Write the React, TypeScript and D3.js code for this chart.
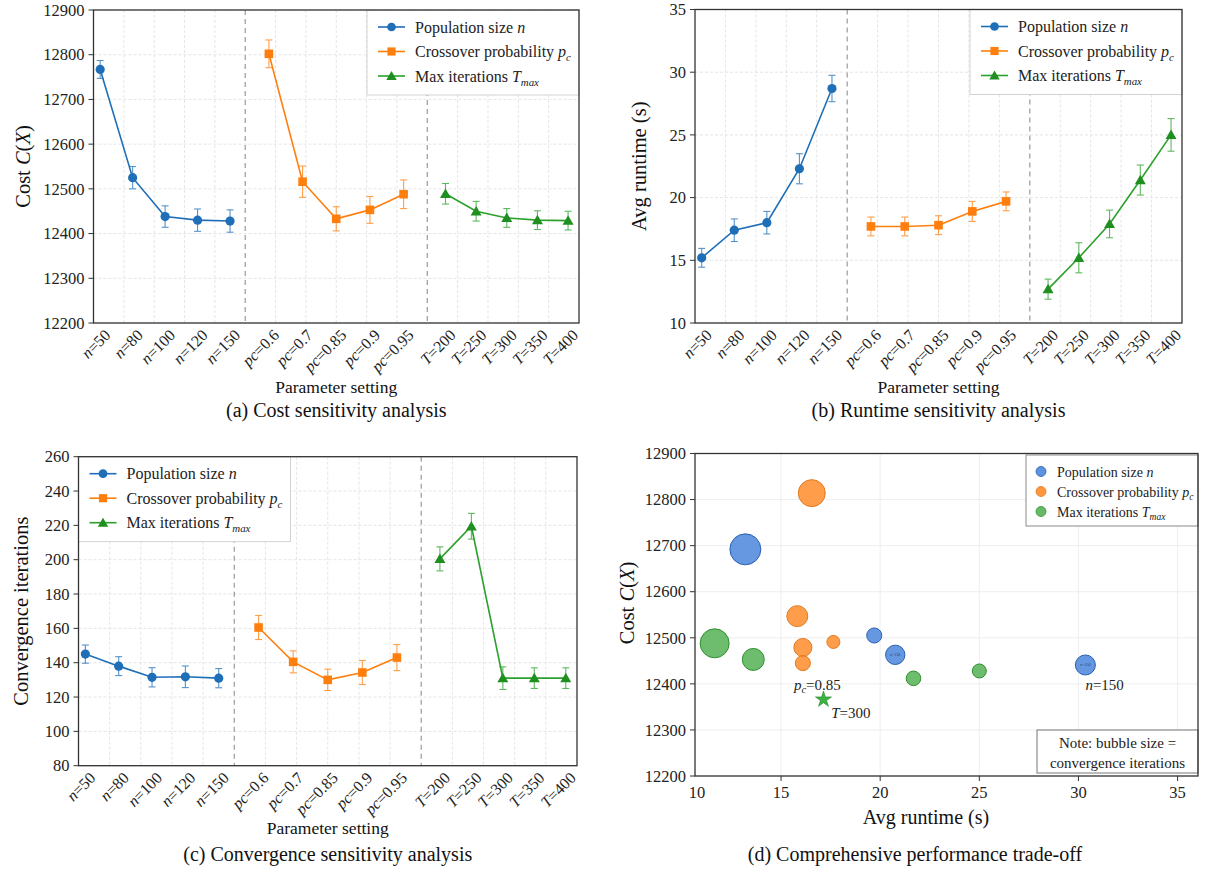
import React from 'react';
import * as d3 from 'd3';

const FONT = '"Liberation Serif", "Times New Roman", "DejaVu Serif", serif';
const COL = { n: '#1f6fb8', pc: '#ff7f0e', T: '#2ca02c' };

// ---------- categories ----------
const nLabels = ['50', '80', '100', '120', '150'];
const pcLabels = ['0.6', '0.7', '0.85', '0.9', '0.95'];
const tLabels = ['200', '250', '300', '350', '400'];

// ---------- (a) cost ----------
const costN = [12767, 12525, 12438, 12430, 12428];
const costNErr = [20, 25, 24, 25, 25];
const costPc = [12802, 12516, 12433, 12453, 12488];
const costPcErr = [31, 35, 27, 30, 32];
const costT = [12489, 12450, 12435, 12430, 12429];
const costTErr = [23, 22, 21, 21, 21];
const costTicks = [12200, 12300, 12400, 12500, 12600, 12700, 12800, 12900];

// ---------- (b) runtime ----------
const runN = [15.2, 17.4, 18.0, 22.3, 28.7];
const runNErr = [0.75, 0.9, 0.9, 1.2, 1.05];
const runPc = [17.7, 17.7, 17.8, 18.9, 19.7];
const runPcErr = [0.75, 0.75, 0.75, 0.8, 0.75];
const runT = [12.7, 15.2, 17.9, 21.4, 25.0];
const runTErr = [0.8, 1.2, 1.1, 1.2, 1.3];
const runTicks = [10, 15, 20, 25, 30, 35];

// ---------- (c) convergence ----------
const convN = [145, 138, 131.5, 131.8, 131];
const convNErr = [5.3, 5.5, 5.6, 6.3, 5.6];
const convPc = [160.5, 140.5, 130, 134.3, 143];
const convPcErr = [7, 6.4, 6.2, 7, 7.6];
const convT = [200.5, 219.5, 131, 131, 131];
const convTErr = [7, 7.5, 6.6, 6, 6];
const convTicks = [80, 100, 120, 140, 160, 180, 200, 220, 240, 260];

// ---------- (d) trade-off bubbles ----------
const bubNRun = [13.2, 19.7, 20.76, 30.35];
const bubNCost = [12692, 12505, 12463, 12441];
const bubNSize = [220, 52, 86, 92];
const bubNTag = ['', '', 'n=120', 'n=150'];
const bubPcRun = [16.55, 15.82, 16.1, 16.1, 17.64];
const bubPcCost = [12814, 12547, 12479, 12445, 12491];
const bubPcSize = [167, 101, 75, 52, 39];
const bubTRun = [11.65, 13.6, 21.68, 25.0];
const bubTCost = [12488, 12453, 12412, 12428];
const bubTSize = [193, 111, 49, 45];
const starRun = 17.14;
const starCost = 12366;
const dXTicks = [15, 20, 25, 30, 35];
const dYTicks = [12200, 12300, 12400, 12500, 12600, 12700, 12800, 12900];

type Key = 'n' | 'pc' | 'T';
const GROUPS: { key: Key; labels: string[]; span: [number, number]; v: string }[] = [
  { key: 'n', labels: nLabels, span: [0.22, 4.5], v: 'n' },
  { key: 'pc', labels: pcLabels, span: [5.78, 10.22], v: 'pc' },
  { key: 'T', labels: tLabels, span: [11.6, 15.64], v: 'T' },
];

function legendLabel(key: Key, sub: number) {
  if (key === 'n') return (<><tspan>Population size </tspan><tspan fontStyle="italic">n</tspan></>);
  if (key === 'pc') return (<><tspan>Crossover probability </tspan><tspan fontStyle="italic">p</tspan><tspan fontStyle="italic" fontSize="0.68em" dy={sub}>c</tspan></>);
  return (<><tspan>Max iterations </tspan><tspan fontStyle="italic">T</tspan><tspan fontStyle="italic" fontSize="0.68em" dy={sub}>max</tspan></>);
}

function Marker({ k, x, y, scale = 1 }: { k: Key; x: number; y: number; scale?: number }) {
  if (k === 'n') return <circle cx={x} cy={y} r={4.6 * scale} fill={COL.n} />;
  if (k === 'pc') { const s = 8.6 * scale; return <rect x={x - s / 2} y={y - s / 2} width={s} height={s} fill={COL.pc} />; }
  const p = d3.symbol(d3.symbolTriangle, 52 * scale * scale)();
  return <path d={p || ''} transform={`translate(${x},${y + 1})`} fill="#1f8f1f" />;
}

function LinePanel(props: {
  x0: number; x1: number; y0: number; y1: number;
  yDomain: [number, number]; yTicks: number[];
  data: Record<Key, [number[], number[]]>;
  yLabel: React.ReactNode; yLabelX: number;
  xLabelY: number; caption: string; captionY: number;
  legendSide: 'left' | 'right';
}) {
  const { x0, x1, y0, y1 } = props;
  const xs = d3.scaleLinear().domain([0, 16]).range([x0, x1]);
  const ys = d3.scaleLinear().domain(props.yDomain).range([y1, y0]);
  const cx = (x0 + x1) / 2;
  const cy = (y0 + y1) / 2;
  const gridX = d3.range(1, 16).filter((k) => k !== 5 && k !== 11);
  const lgW = 212, lgH = 85;
  const lgX = props.legendSide === 'right' ? x1 - lgW : x0;
  const lgY = y0;
  return (
    <g fontFamily={FONT}>
      {/* grid */}
      {props.yTicks.map((t) => (
        <line key={'gy' + t} x1={x0} x2={x1} y1={ys(t)} y2={ys(t)} stroke="#dedede" strokeWidth={0.8} strokeDasharray="3,2" />
      ))}
      {gridX.map((k) => (
        <line key={'gx' + k} x1={xs(k)} x2={xs(k)} y1={y0} y2={y1} stroke="#dedede" strokeWidth={0.8} strokeDasharray="3,2" />
      ))}
      {[5, 11].map((k) => (
        <line key={'sep' + k} x1={xs(k)} x2={xs(k)} y1={y0} y2={y1} stroke="#9a9a9a" strokeWidth={1.2} strokeDasharray="5,4" />
      ))}
      {/* series */}
      {GROUPS.map((g) => {
        const px = d3.scalePoint<string>().domain(g.labels).range(g.span);
        const [vals, errs] = props.data[g.key];
        const pts = g.labels.map((l, i) => [xs(px(l) as number), ys(vals[i])] as [number, number]);
        const line = d3.line()(pts) || '';
        return (
          <g key={g.key}>
            {g.labels.map((l, i) => {
              const x = xs(px(l) as number);
              const ya = ys(vals[i] + errs[i]);
              const yb = ys(vals[i] - errs[i]);
              return (
                <g key={l} stroke={COL[g.key]} strokeWidth={1.1} opacity={0.75}>
                  <line x1={x} x2={x} y1={ya} y2={yb} />
                  <line x1={x - 3.5} x2={x + 3.5} y1={ya} y2={ya} />
                  <line x1={x - 3.5} x2={x + 3.5} y1={yb} y2={yb} />
                </g>
              );
            })}
            <path d={line} fill="none" stroke={COL[g.key]} strokeWidth={1.6} />
            {pts.map((p, i) => <Marker key={i} k={g.key} x={p[0]} y={p[1]} />)}
            {g.labels.map((l) => (
              <text key={'t' + l} transform={`translate(${xs(px(l) as number) + 3},${y1 + 5}) rotate(-45)`} textAnchor="end" fontSize={16} dy="0.72em" fill="#222">
                <tspan fontStyle="italic">{g.v}</tspan>={l}
              </text>
            ))}
          </g>
        );
      })}
      {/* legend */}
      <rect x={lgX} y={lgY} width={lgW} height={lgH} fill="#fff" stroke="#c8c8c8" strokeWidth={0.8} />
      {(['n', 'pc', 'T'] as Key[]).map((k, i) => {
        const ry = lgY + 17 + i * 24.5;
        return (
          <g key={'lg' + k}>
            <line x1={lgX + 11} x2={lgX + 38} y1={ry} y2={ry} stroke={COL[k]} strokeWidth={1.6} />
            <Marker k={k} x={lgX + 24.5} y={ry} scale={0.95} />
            <text x={lgX + 48} y={ry + 5.5} fontSize={16} fill="#222">{legendLabel(k, 4)}</text>
          </g>
        );
      })}
      {/* frame */}
      <rect x={x0} y={y0} width={x1 - x0} height={y1 - y0} fill="none" stroke="#333" strokeWidth={1.3} />
      {/* y axis */}
      {props.yTicks.map((t) => (
        <g key={'yt' + t}>
          <line x1={x0 - 5} x2={x0} y1={ys(t)} y2={ys(t)} stroke="#333" strokeWidth={1} />
          <text x={x0 - 9} y={ys(t)} dy="0.35em" textAnchor="end" fontSize={16.5} fill="#222">{t}</text>
        </g>
      ))}
      <text transform={`translate(${props.yLabelX},${cy}) rotate(-90)`} textAnchor="middle" dy="0.35em" fontSize={20.5} fill="#111">{props.yLabel}</text>
      <text x={cx} y={props.xLabelY} textAnchor="middle" fontSize={17.5} fill="#111">Parameter setting</text>
      <text x={cx} y={props.captionY} textAnchor="middle" fontSize={20} fill="#111">{props.caption}</text>
    </g>
  );
}

function BubblePanel() {
  const x0 = 695, x1 = 1198, y0 = 453.5, y1 = 776;
  const xs = d3.scaleLinear().domain([10.66, 36.03]).range([x0, x1]);
  const ys = d3.scaleLinear().domain([12200, 12900]).range([y1, y0]);
  const rs = d3.scaleSqrt().domain([0, 250]).range([0, 16.5]);
  const fills: Record<Key, [string, string]> = {
    n: ['#4a86dc', '#2a5fb0'],
    pc: ['#ff8c2a', '#e07a20'],
    T: ['#55b255', '#2f8f2f'],
  };
  const sets: { k: Key; run: number[]; cost: number[]; size: number[] }[] = [
    { k: 'pc', run: bubPcRun, cost: bubPcCost, size: bubPcSize },
    { k: 'T', run: bubTRun, cost: bubTCost, size: bubTSize },
    { k: 'n', run: bubNRun, cost: bubNCost, size: bubNSize },
  ];
  const star = d3.symbol(d3.symbolStar, 80)() || '';
  const lgX = 1026, lgY = 455, lgW = 172, lgH = 71;
  return (
    <g fontFamily={FONT}>
      {dYTicks.map((t) => (
        <line key={'gy' + t} x1={x0} x2={x1} y1={ys(t)} y2={ys(t)} stroke="#ececec" strokeWidth={0.9} />
      ))}
      {dXTicks.map((t) => (
        <line key={'gx' + t} x1={xs(t)} x2={xs(t)} y1={y0} y2={y1} stroke="#ececec" strokeWidth={0.9} />
      ))}
      {sets.map((s) => s.run.map((r, i) => (
        <circle key={s.k + i} cx={xs(r)} cy={ys(s.cost[i])} r={rs(s.size[i])} fill={fills[s.k][0]} fillOpacity={0.85} stroke={fills[s.k][1]} strokeWidth={1} />
      )))}
      {bubNRun.map((r, i) => bubNTag[i] ? (
        <text key={'tag' + i} x={xs(r)} y={ys(bubNCost[i])} dy="0.35em" textAnchor="middle" fontSize={4} fill="#1a3d80">{bubNTag[i]}</text>
      ) : null)}
      <path d={star} transform={`translate(${xs(starRun)},${ys(starCost)})`} fill="#3cb043" stroke="#2a8a2a" strokeWidth={0.6} />
      {/* annotations */}
      <text x={xs(15.65)} y={ys(12386)} fontSize={15} fill="#222">
        <tspan fontStyle="italic">p</tspan><tspan fontStyle="italic" fontSize="0.7em" dy={3}>c</tspan><tspan dy={-3}>=0.85</tspan>
      </text>
      <text x={xs(17.53)} y={ys(12325)} fontSize={15} fill="#222"><tspan fontStyle="italic">T</tspan>=300</text>
      <text x={xs(30.35)} y={ys(12386)} fontSize={15} fill="#222"><tspan fontStyle="italic">n</tspan>=150</text>
      {/* legend */}
      <rect x={lgX} y={lgY} width={lgW} height={lgH} fill="#fff" stroke="#8a8a8a" strokeWidth={1} />
      {(['n', 'pc', 'T'] as Key[]).map((k, i) => {
        const ry = lgY + 16.5 + i * 20;
        return (
          <g key={'dl' + k}>
            <circle cx={lgX + 15} cy={ry} r={5} fill={fills[k][0]} fillOpacity={0.9} stroke={fills[k][1]} strokeWidth={0.8} />
            <text x={lgX + 31} y={ry + 5} fontSize={14} fill="#222">{legendLabel(k, 3)}</text>
          </g>
        );
      })}
      {/* note */}
      <rect x={1037} y={730} width={161} height={43} fill="#fff" stroke="#777" strokeWidth={1} />
      <text x={1117.5} y={748} textAnchor="middle" fontSize={15} fill="#222">Note: bubble size =</text>
      <text x={1117.5} y={768} textAnchor="middle" fontSize={15} fill="#222">convergence iterations</text>
      {/* frame */}
      <rect x={x0} y={y0} width={x1 - x0} height={y1 - y0} fill="none" stroke="#333" strokeWidth={1.3} />
      {dYTicks.map((t) => (
        <g key={'yt' + t}>
          <line x1={x0 - 5} x2={x0} y1={ys(t)} y2={ys(t)} stroke="#333" />
          <text x={x0 - 9} y={ys(t)} dy="0.35em" textAnchor="end" fontSize={16.5} fill="#222">{t}</text>
        </g>
      ))}
      {dXTicks.map((t) => (
        <g key={'xt' + t}>
          <line x1={xs(t)} x2={xs(t)} y1={y1} y2={y1 + 5} stroke="#333" />
          <text x={xs(t)} y={y1 + 22} textAnchor="middle" fontSize={16.5} fill="#222">{t}</text>
        </g>
      ))}
      <text x={x0 + 2} y={y1 + 22} textAnchor="middle" fontSize={16.5} fill="#222">10</text>
      <text transform={`translate(627,603) rotate(-90)`} textAnchor="middle" dy="0.35em" fontSize={20.5} fill="#111">
        Cost <tspan fontStyle="italic">C</tspan>(<tspan fontStyle="italic">X</tspan>)
      </text>
      <text x={926} y={824} textAnchor="middle" fontSize={20} fill="#111">Avg runtime (s)</text>
      <text x={915} y={861} textAnchor="middle" fontSize={20} fill="#111">(d) Comprehensive performance trade-off</text>
    </g>
  );
}

export default function App() {
  const costLabel = (<>Cost <tspan fontStyle="italic">C</tspan>(<tspan fontStyle="italic">X</tspan>)</>);
  return (
    <svg width={1205} height={872} style={{ position: 'absolute', left: 0, top: 0, background: '#fff' }}>
      <rect width={1205} height={872} fill="#fff" />
      <LinePanel x0={93.5} x1={579} y0={10} y1={323} yDomain={[12200, 12900]} yTicks={costTicks}
        data={{ n: [costN, costNErr], pc: [costPc, costPcErr], T: [costT, costTErr] }}
        yLabel={costLabel} yLabelX={23} xLabelY={393} caption="(a) Cost sensitivity analysis" captionY={417} legendSide="right" />
      <LinePanel x0={695} x1={1182} y0={9.5} y1={323} yDomain={[10, 35]} yTicks={runTicks}
        data={{ n: [runN, runNErr], pc: [runPc, runPcErr], T: [runT, runTErr] }}
        yLabel={'Avg runtime (s)'} yLabelX={639} xLabelY={393} caption="(b) Runtime sensitivity analysis" captionY={417} legendSide="right" />
      <LinePanel x0={78.5} x1={577} y0={456.7} y1={765.7} yDomain={[80, 260]} yTicks={convTicks}
        data={{ n: [convN, convNErr], pc: [convPc, convPcErr], T: [convT, convTErr] }}
        yLabel={'Convergence iterations'} yLabelX={21} xLabelY={834} caption="(c) Convergence sensitivity analysis" captionY={861} legendSide="left" />
      <BubblePanel />
    </svg>
  );
}
